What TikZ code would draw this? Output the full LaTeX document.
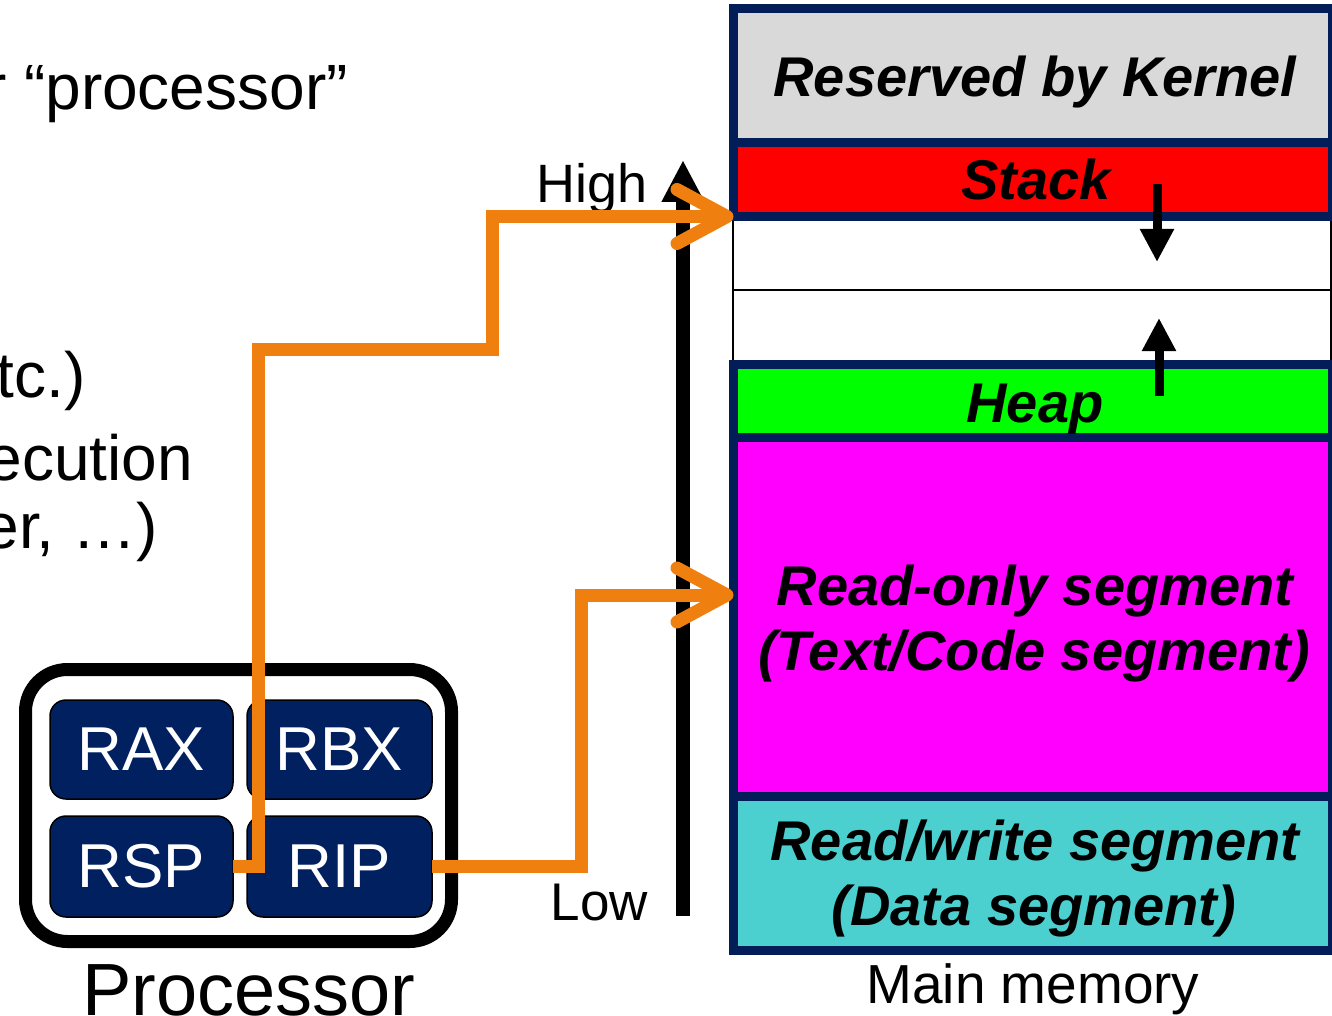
\documentclass[tikz,border=0pt]{standalone}
\usepackage{fontspec}
\setmainfont{Liberation Sans}
\usetikzlibrary{arrows.meta}

\definecolor{regnavy}{HTML}{002060}
\definecolor{edgenavy}{HTML}{021D58}
\definecolor{kernelgray}{HTML}{D9D9D9}
\definecolor{stackred}{HTML}{FF0000}
\definecolor{heapgreen}{HTML}{00FF00}
\definecolor{codemagenta}{HTML}{FF00FF}
\definecolor{datacyan}{HTML}{4BD0CF}
\definecolor{wireorange}{HTML}{EF7F0E}

\begin{document}
\begin{tikzpicture}[x=1pt,y=-1pt,
  membox/.style={draw=edgenavy, line width=9pt, inner sep=0pt, outer sep=0pt,
    minimum width=599pt},
  freebox/.style={draw=black, line width=2pt, fill=white, inner sep=0pt,
    outer sep=0pt, minimum width=598pt},
  memlabel/.style={font=\fontsize{56}{65}\selectfont\bfseries\itshape,
    inner sep=0pt, anchor=base},
  reg/.style={draw=black, line width=1.5pt, fill=regnavy, rounded corners=16pt,
    text=white, font=\fontsize{62}{70}\selectfont, inner sep=0pt, outer sep=0pt},
  sidetext/.style={font=\fontsize{64}{77}\selectfont, inner sep=0pt},
  wire/.style={draw=wireorange, line width=13pt,
    -{Straight Barb[length=50pt, width=54pt, round]}},
  growarrow/.style={line width=9pt, -{Triangle[length=33pt, width=32pt]}}
]
\useasboundingbox (0,0) rectangle (1332,1016);
\clip (0,0) rectangle (1332,1016);

% text running in from the left
\node[sidetext, anchor=base east] (t1) at (348,110) {r “processor”};
\node[sidetext, anchor=base east] (t2) at (86,397) {tc.)};
\node[sidetext, anchor=base east] (t3) at (193,480) {ecution};
\node[sidetext, anchor=base east] (t4) at (158,548) {er, …)};

% free space between stack and heap
\node[freebox, minimum height=73.5pt] (freeA) at (1032,253.25) {};
\node[freebox, minimum height=74.5pt] (freeB) at (1032,327.25) {};

% memory segments
\node[membox, fill=kernelgray,  minimum height=133.5pt] (kern)  at (1033,75.75) {};
\node[membox, fill=stackred,    minimum height=74pt]    (stack) at (1033,179.5) {};
\node[membox, fill=heapgreen,   minimum height=73pt]    (heap)  at (1033,401) {};
\node[membox, fill=codemagenta, minimum height=358.5pt] (ro)    at (1033,616.75) {};
\node[membox, fill=datacyan,    minimum height=154pt]   (data)  at (1033,873) {};

\node[memlabel] (kernT) at (1035,97) {Reserved by Kernel};
\node[memlabel] (stackT) at (1036,200) {Stack};
\node[memlabel] (heapT) at (1035,422) {Heap};
\node[memlabel] (roT1) at (1035,605) {Read-only segment};
\node[memlabel] (roT2) at (1034,670) {(Text/Code segment)};
\node[memlabel] (dataT1) at (1035,860) {Read/write segment};
\node[memlabel] (dataT2) at (1034,925) {(Data segment)};
\node[font=\fontsize{55}{65}\selectfont, inner sep=0pt, anchor=base] (memT) at (1033,1003) {Main memory};

% growth directions of stack and heap
\coordinate (sg0) at (1157,184);
\coordinate (sg1) at (1157,262);
\coordinate (hg0) at (1159,396);
\coordinate (hg1) at (1159,318);
\draw[growarrow] (sg0) -- (sg1);
\draw[growarrow] (hg0) -- (hg1);

% address axis
\coordinate (axLow) at (683,916);
\coordinate (axHigh) at (683,160);
\draw[line width=14pt, -{Triangle[length=42pt, width=40pt]}] (axLow) -- (axHigh);
\node[font=\fontsize{54}{64}\selectfont, inner sep=0pt, anchor=base east] (high) at (648,203) {High};
\node[font=\fontsize{53}{64}\selectfont, inner sep=0pt, anchor=base east] (low) at (648,920) {Low};

% processor with its registers
\node[draw=black, line width=13pt, rounded corners=42pt, minimum width=426pt,
  minimum height=272pt, inner sep=0pt] (proc) at (238.5,805.5) {};
\node[reg, minimum width=183pt, minimum height=99pt]  (rax) at (141.5,749.5) {RAX};
\node[reg, minimum width=185pt, minimum height=99pt]  (rbx) at (339.5,749.5) {RBX};
\node[reg, minimum width=183pt, minimum height=101pt] (rsp) at (141.5,866.5) {RSP};
\node[reg, minimum width=185pt, minimum height=101pt] (rip) at (339.5,866.5) {RIP};
\node[font=\fontsize{74}{80}\selectfont, inner sep=0pt, anchor=base] (procT) at (249,1015) {Processor};

% register contents pointing into memory
\draw[wire] (rsp.east) -| (258,349) -| (492,216.5) -- (stack.south west);
\draw[wire] (rip.east) -| (581,595) -- (ro.west |- 0,595);
\end{tikzpicture}
\end{document}
